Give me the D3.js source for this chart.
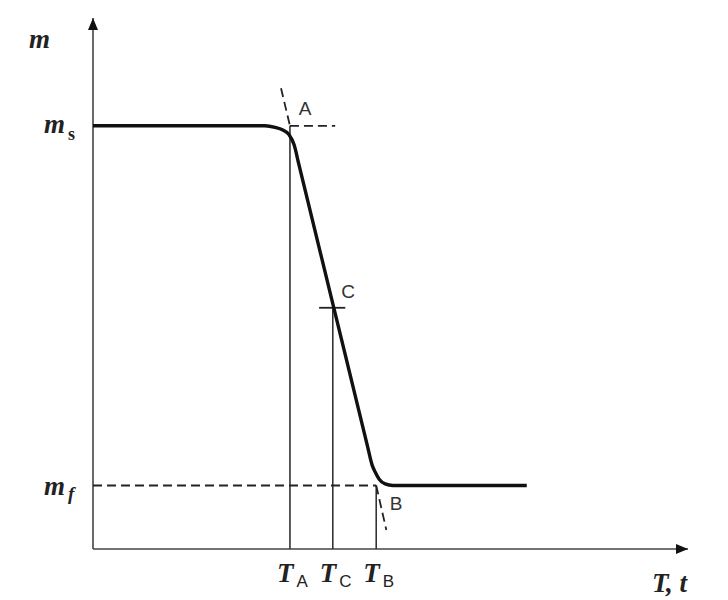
<!DOCTYPE html>
<html><head><meta charset="utf-8">
<script src="https://cdn.jsdelivr.net/npm/d3@7"></script>
<style>body{margin:0;background:#fff}</style>
</head><body>
<svg id="c" width="728" height="600"></svg>
<script>
// curve (temperature T, mass m) in chart units
const curveT = [0, 20, 28.9, 30.6, 31.9, 32.9, 33.8, 34.6, 40.35, 46.1, 46.9, 47.4, 48.1, 49.1, 50.4, 60, 72.9];
const curveM = [80, 80, 80, 79.7, 79.2, 78.4, 76.4, 72.7, 46.15, 19.6, 15.9, 14.6, 13.2, 12.3, 12, 12, 12];
const mS = 80, mF = 12;
const TA = 33.1, TC = 40.3, TB = 47.6, mC = 45.6;
const tickNames = ["A", "C", "B"];
const tickTemps = [TA, TC, TB];
const tickTops = [mS, mC, mF];
const tangentTop = [[31.6, 87.1], [TA, mS]];
const tangentBot = [[TB, mF], [49.3, 3.6]];
const msExt = [[TA, mS], [40.7, mS]];
const mfDash = [[0, mF], [TB, mF]];
const cTick = [[38.0, mC], [42.4, mC]];

const svg = d3.select("#c");
const x = d3.scaleLinear().domain([0, 100]).range([93, 688]);
const y = d3.scaleLinear().domain([0, 100]).range([549, 20]);
const line = d3.line().x(d => x(d[0])).y(d => y(d[1]));

const defs = svg.append("defs");
defs.append("marker").attr("id", "arr").attr("viewBox", "0 0 12 10")
  .attr("refX", 12).attr("refY", 5).attr("markerWidth", 12).attr("markerHeight", 10)
  .attr("markerUnits", "userSpaceOnUse").attr("orient", "auto")
  .append("path").attr("d", "M0,0 L12,5 L0,10 Z").attr("fill", "#111");

// axes
svg.append("line").attr("x1", x(0)).attr("y1", y(0)).attr("x2", x(100)).attr("y2", y(0))
  .attr("stroke", "#444").attr("stroke-width", 1.6).attr("marker-end", "url(#arr)");
svg.append("line").attr("x1", x(0)).attr("y1", y(0)).attr("x2", x(0)).attr("y2", y(100) - 2)
  .attr("stroke", "#444").attr("stroke-width", 1.6).attr("marker-end", "url(#arr)");

// vertical drop lines
svg.selectAll(".vl").data(tickTemps).enter().append("line")
  .attr("x1", d => x(d)).attr("x2", d => x(d))
  .attr("y1", (d, i) => y(tickTops[i])).attr("y2", y(0))
  .attr("stroke", "#333").attr("stroke-width", 1.6);

// dashed helper lines
[tangentTop, tangentBot, msExt, mfDash].forEach(seg => {
  svg.append("path").attr("d", line(seg)).attr("fill", "none")
    .attr("stroke", "#222").attr("stroke-width", 1.8).attr("stroke-dasharray", "9,5");
});
svg.append("path").attr("d", line(cTick)).attr("stroke", "#222").attr("stroke-width", 1.8);

// main curve
const pts = curveT.map((t, i) => [t, curveM[i]]);
svg.append("path").attr("d", d3.line().x(d => x(d[0])).y(d => y(d[1])).curve(d3.curveMonotoneX)(pts))
  .attr("fill", "none").attr("stroke", "#111").attr("stroke-width", 3.4);

// point labels
const sans = "Liberation Sans, Arial, sans-serif";
const serif = "Liberation Serif, Times New Roman, serif";
svg.append("text").attr("x", 305).attr("y", 115).attr("text-anchor", "middle")
  .attr("font-family", sans).attr("font-size", 19).attr("fill", "#333").text("A");
svg.append("text").attr("x", 348).attr("y", 298).attr("text-anchor", "middle")
  .attr("font-family", sans).attr("font-size", 19).attr("fill", "#333").text("C");
svg.append("text").attr("x", 396).attr("y", 510).attr("text-anchor", "middle")
  .attr("font-family", sans).attr("font-size", 19).attr("fill", "#333").text("B");

// x tick labels T_A, T_C, T_B
tickTemps.forEach((t, i) => {
  const tx = svg.append("text").attr("x", x(t) - 13).attr("y", 582)
    .attr("fill", "#222");
  tx.append("tspan").attr("font-family", serif).attr("font-style", "italic").attr("font-weight", "bold")
    .attr("font-size", 27).text("T");
  tx.append("tspan").attr("font-family", sans).attr("font-size", 17)
    .attr("dx", 3).attr("dy", 5).text(tickNames[i]);
});

// y labels
svg.append("text").attr("x", 29).attr("y", 48).attr("font-family", serif)
  .attr("font-style", "italic").attr("font-weight", "bold").attr("font-size", 27).attr("fill", "#222").text("m");
const ms = svg.append("text").attr("x", 44).attr("y", 133).attr("fill", "#222");
ms.append("tspan").attr("font-family", serif).attr("font-style", "italic").attr("font-weight", "bold").attr("font-size", 27).text("m");
ms.append("tspan").attr("font-family", serif).attr("font-weight", "bold").attr("font-size", 18).attr("dx", 3).attr("dy", 7).text("s");
const mf = svg.append("text").attr("x", 44).attr("y", 495).attr("fill", "#222");
mf.append("tspan").attr("font-family", serif).attr("font-style", "italic").attr("font-weight", "bold").attr("font-size", 27).text("m");
mf.append("tspan").attr("font-family", serif).attr("font-style", "italic").attr("font-weight", "bold").attr("font-size", 19).attr("dx", 3).attr("dy", 5).text("f");

// x axis title
svg.append("text").attr("x", 652).attr("y", 592).attr("font-family", serif)
  .attr("font-style", "italic").attr("font-weight", "bold").attr("font-size", 27).attr("fill", "#222").text("T, t");
</script>
</body></html>
